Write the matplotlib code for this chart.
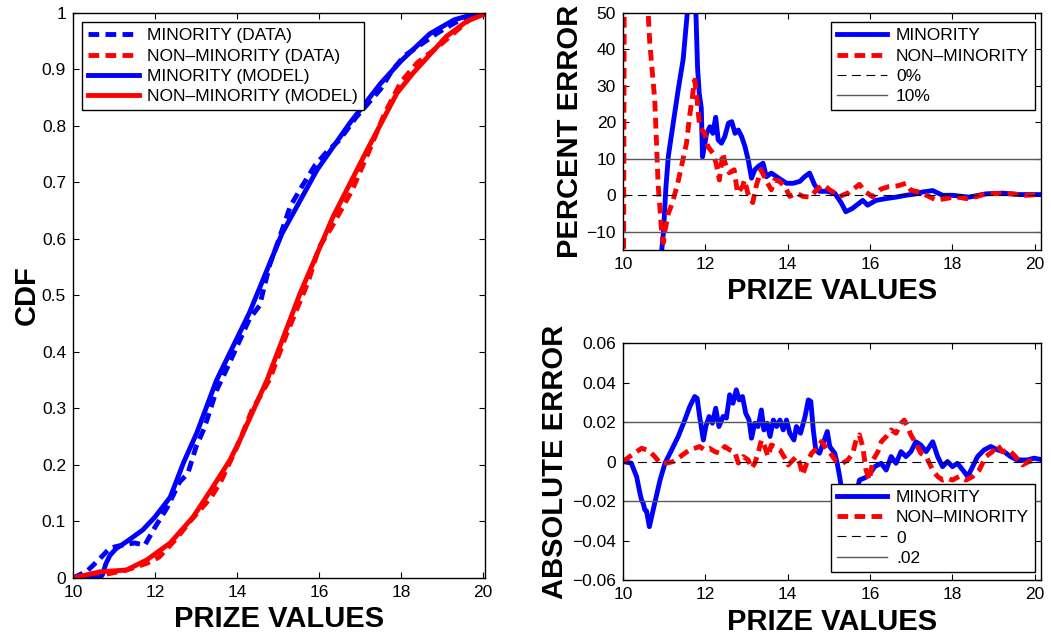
import matplotlib
matplotlib.use("Agg")
import matplotlib.pyplot as plt
from matplotlib.ticker import FuncFormatter

plt.rcParams['font.family'] = ['Liberation Sans', 'DejaVu Sans']

# CDF curves: model (smooth) and data (empirical)
min_model_x = [10.0, 10.65, 10.72, 10.8, 10.9, 11.05, 11.3, 11.7, 12.0, 12.37, 12.7, 13.02, 13.5,
               14.3, 15.1, 15.95, 16.75, 17.5, 18.0, 18.7, 19.3, 19.9, 20.1]
min_model_y = [0.0, 0.0, 0.006, 0.025, 0.040, 0.052, 0.064, 0.085, 0.108, 0.143, 0.205, 0.257,
               0.350, 0.469, 0.610, 0.722, 0.805, 0.875, 0.915, 0.963, 0.988, 1.0, 1.0]

non_model_x = [10.0, 10.66, 11.3, 11.8, 12.37, 12.93, 13.41, 13.83, 14.07, 14.73, 15.54, 16.34,
               17.17, 17.9, 18.3, 19.1, 19.6, 20.1]
non_model_y = [0.0, 0.011, 0.014, 0.032, 0.062, 0.108, 0.161, 0.209, 0.244, 0.350, 0.504, 0.639,
               0.757, 0.858, 0.894, 0.958, 0.985, 1.0]

min_data_x = [10.0, 10.34, 10.64, 10.9, 11.2, 11.5, 11.75, 12.0, 12.3, 12.6, 12.8, 13.0, 13.2,
              13.5, 13.8, 14.0, 14.3, 14.55, 14.8, 15.0, 15.3, 15.6, 15.9, 16.2, 16.5, 16.9,
              17.2, 17.5, 17.8, 18.1, 18.5, 18.9, 19.3, 19.7, 20.1]
min_data_y = [0.0, 0.012, 0.033, 0.053, 0.058, 0.062, 0.058, 0.090, 0.125, 0.170, 0.185, 0.232,
              0.265, 0.332, 0.378, 0.410, 0.458, 0.482, 0.555, 0.595, 0.658, 0.695, 0.730, 0.755,
              0.775, 0.815, 0.840, 0.865, 0.900, 0.925, 0.945, 0.965, 0.982, 0.996, 1.0]

non_data_x = [10.0, 10.45, 10.9, 11.3, 11.8, 12.1, 12.5, 12.9, 13.36, 13.6, 14.0, 14.36, 14.8,
              15.2, 15.74, 16.0, 16.3, 16.8, 17.2, 17.6, 18.0, 18.4, 18.9, 19.3, 19.7, 20.1]
non_data_y = [0.0, 0.002, 0.008, 0.014, 0.026, 0.037, 0.068, 0.104, 0.142, 0.170, 0.232, 0.296,
              0.352, 0.430, 0.525, 0.585, 0.620, 0.685, 0.752, 0.822, 0.878, 0.912, 0.940, 0.965,
              0.990, 1.0]

# percent error of the model
min_pct_x = [10.1, 10.6, 10.85, 10.94, 10.98, 11.04, 11.1, 11.22, 11.34, 11.46, 11.56, 11.64,
             11.72, 11.77, 11.81, 11.85, 11.9, 11.93, 12.03, 12.11, 12.18, 12.25, 12.31, 12.39,
             12.47, 12.56, 12.64, 12.72, 12.8, 12.88, 12.96, 13.04, 13.12, 13.2, 13.28, 13.4,
             13.48, 13.6, 13.73, 13.85, 13.97, 14.13, 14.29, 14.41, 14.53, 14.65, 14.77, 14.94,
             15.14, 15.3, 15.41, 15.57, 15.82, 15.94, 16.14, 16.38, 16.63, 16.87, 17.11, 17.27,
             17.52, 17.76, 18.0, 18.4, 18.81, 19.21, 19.62, 20.1]
min_pct_y = [-100, -100, -40, -15, -10.4, 2, 10.7, 19.9, 29, 37.3, 50, 68,
             62, 50, 35, 28, 24, 10.5, 17, 18.8, 17, 21.4, 15.2, 14.3,
             16.1, 19.8, 20.2, 17, 17.9, 16.1, 13.4, 9.7, 4.7, 7, 7.9, 8.8,
             5.1, 6.1, 5.1, 4.2, 3.3, 3.3, 3.8, 5.1, 6.1, 2.9, 1.1, 1.1,
             0.6, -2.1, -4.5, -3.6, -1.4, -2.7, -1.4, -0.9, -0.5, 0, 0.4, 0.9,
             1.3, 0, 0, -0.5, 0.4, 0.6, 0.2, 0.2]

non_pct_x = [10.0, 10.05, 10.3, 10.55, 10.61, 10.65, 10.77, 10.81, 10.85, 10.94, 10.98, 11.02,
             11.1, 11.2, 11.33, 11.42, 11.54, 11.62, 11.74, 11.8, 11.86, 11.98, 12.06, 12.18,
             12.26, 12.34, 12.42, 12.5, 12.58, 12.7, 12.78, 12.9, 12.95, 13.03, 13.15, 13.23,
             13.35, 13.47, 13.6, 13.68, 13.8, 13.93, 14.05, 14.21, 14.37, 14.55, 14.7, 14.86,
             15.02, 15.09, 15.25, 15.49, 15.74, 15.86, 16.06, 16.26, 16.46, 16.67, 16.87, 16.99,
             17.19, 17.44, 17.6, 17.84, 18.08, 18.33, 18.57, 18.81, 19.13, 19.45, 19.78, 20.1]
non_pct_y = [-80, 150, 200, 80, 50, 41.7, 26.2, 15.2, 3.3, -10.4, -13, -9.6,
             -5, -2, 3.4, 8, 14.2, 22, 31.6, 26, 18.8, 17, 13.4, 11.6,
             8.8, 4.2, 11.6, 8, 6.2, 7, 0.6, 2.4, 4.2, 0.6, -2, 2.4,
             7, 4.2, 1.5, 4.2, 3.8, 2.4, -0.3, 0.6, -0.3, -0.5, 1.5, 2.9,
             1.5, 1, -0.4, 0.8, 3, 1.2, -0.4, 1.7, 2.4, 2.6, 3.3, 1.4,
             0.9, -0.4, -1.3, -0.9, -0.4, -0.9, -0.4, 0.4, 0.5, 0.4, 0, 0.2]

# absolute error of the model
min_abs_x = [10.0, 10.2, 10.33, 10.41, 10.45, 10.49, 10.53, 10.57, 10.64, 10.77, 10.9, 11.02,
             11.18, 11.34, 11.5, 11.62, 11.74, 11.8, 11.86, 11.95, 12.01, 12.09, 12.17, 12.25,
             12.33, 12.43, 12.51, 12.59, 12.67, 12.75, 12.82, 12.9, 12.98, 13.06, 13.12, 13.2,
             13.28, 13.36, 13.42, 13.5, 13.57, 13.65, 13.73, 13.81, 13.89, 13.97, 14.05, 14.15,
             14.21, 14.31, 14.42, 14.5, 14.56, 14.62, 14.68, 14.77, 14.86, 14.96, 15.02, 15.14,
             15.2, 15.26, 15.35, 15.5, 15.65, 15.74, 15.9, 16.0, 16.11, 16.27, 16.39, 16.51,
             16.63, 16.75, 16.87, 16.99, 17.11, 17.23, 17.36, 17.52, 17.64, 17.76, 17.88, 18.0,
             18.12, 18.25, 18.37, 18.49, 18.61, 18.77, 18.93, 19.09, 19.25, 19.41, 19.57, 19.82,
             19.98, 20.1]
min_abs_y = [0.0, -0.0008, -0.0077, -0.016, -0.0195, -0.0212, -0.0245, -0.025, -0.033, -0.021,
             -0.0093, -0.0008, 0.0059, 0.0127, 0.021, 0.0278, 0.0329, 0.032, 0.0228, 0.0109,
             0.0177, 0.0228, 0.0194, 0.027, 0.0177, 0.0228, 0.022, 0.0338, 0.0295, 0.0363,
             0.0312, 0.0329, 0.0244, 0.021, 0.0118, 0.0194, 0.0177, 0.0261, 0.016, 0.0194,
             0.0127, 0.021, 0.0177, 0.021, 0.016, 0.021, 0.0143, 0.0109, 0.0177, 0.0143,
             0.0228, 0.0312, 0.0304, 0.016, 0.0059, 0.0042, 0.0093, 0.0152, 0.0076, 0.0042,
             -0.0008, -0.0076, -0.02, -0.025, -0.018, -0.0094, -0.008, -0.006, -0.0026, -0.0009,
             -0.0043, 0.0025, -0.0009, 0.005, 0.0025, 0.005, 0.01, 0.0084, 0.005, 0.01,
             0.0025, -0.0026, 0.0, -0.0026, -0.0009, -0.0043, -0.0076, -0.0026, 0.0025, 0.0059,
             0.0076, 0.0059, 0.005, 0.0025, 0.0008, 0.0008, 0.0017, 0.0012]

non_abs_x = [10.0, 10.16, 10.33, 10.45, 10.57, 10.69, 10.77, 10.9, 11.06, 11.22, 11.34, 11.5,
             11.62, 11.74, 11.86, 11.98, 12.1, 12.23, 12.35, 12.47, 12.59, 12.71, 12.8, 12.92,
             13.04, 13.12, 13.2, 13.28, 13.36, 13.44, 13.52, 13.6, 13.68, 13.81, 13.93, 14.01,
             14.13, 14.21, 14.29, 14.36, 14.46, 14.58, 14.7, 14.82, 14.94, 15.06, 15.18, 15.33,
             15.46, 15.58, 15.66, 15.74, 15.82, 15.9, 15.98, 16.07, 16.19, 16.27, 16.39, 16.51,
             16.63, 16.75, 16.83, 16.91, 16.99, 17.11, 17.23, 17.36, 17.52, 17.64, 17.76, 17.88,
             18.0, 18.16, 18.33, 18.49, 18.65, 18.81, 18.97, 19.09, 19.21, 19.37, 19.53, 19.7,
             19.86, 20.06]
non_abs_y = [0.0, 0.0025, 0.005, 0.0067, 0.0059, 0.0042, 0.0025, -0.0008, -0.0008, 0.0, 0.0017,
             0.0042, 0.0059, 0.0067, 0.0076, 0.0059, 0.0067, 0.005, 0.0042, 0.0076, 0.0059, 0.005,
             -0.0008, 0.0025, 0.0008, -0.0034, -0.0008, 0.0042, 0.0109, 0.0076, 0.0025, 0.0084,
             0.0076, 0.0059, 0.0017, -0.0017, 0.0008, 0.0025, -0.0008, -0.0068, -0.0008, 0.0042,
             0.0067, 0.0101, 0.0067, 0.0034, 0.0, -0.0009, 0.0008, 0.0042, 0.011, 0.0135, 0.0076,
             -0.0043, -0.0094, 0.0008, 0.005, 0.01, 0.0126, 0.016, 0.0143, 0.0194, 0.021, 0.0177,
             0.0135, 0.0092, 0.0042, 0.0025, -0.0043, -0.0076, -0.0094, -0.0085, -0.0094, -0.0076,
             -0.0094, -0.0076, -0.0043, 0.0025, 0.005, 0.0084, 0.005, 0.0059, 0.0025, -0.0017,
             0.0, 0.0008]

LW = 3.5
DASH = (0, (2.2, 1.3))
REF_DASH = (0, (8, 5))
FS = 12.5
LABEL_FS = 21

fig = plt.figure(figsize=(10.51, 6.35), dpi=100)
ax_cdf = fig.add_axes([0.0695, 0.0898, 0.392, 0.8898])
ax_pct = fig.add_axes([0.5928, 0.6063, 0.3977, 0.3732])
ax_abs = fig.add_axes([0.5928, 0.0866, 0.3977, 0.3732])

legend_kw = dict(fontsize=FS, frameon=True, fancybox=False, edgecolor='black', framealpha=1,
                 handlelength=2.9, labelspacing=0.3, borderpad=0.35, handletextpad=0.5,
                 borderaxespad=0)


def matlab_num(v, pos):
    s = ('%g' % round(v, 6))
    return s.replace('-', '\u2212')


for ax in (ax_cdf, ax_pct, ax_abs):
    ax.tick_params(direction='in', top=True, right=True, length=4, width=0.8,
                   labelsize=FS, pad=5)
    for sp in ax.spines.values():
        sp.set_linewidth(1.0)
    ax.set_xticks([10, 12, 14, 16, 18, 20])
    ax.yaxis.set_major_formatter(FuncFormatter(matlab_num))

# left: CDF
ax_cdf.plot(min_data_x, min_data_y, color='blue', lw=LW, ls=DASH, label='MINORITY (DATA)')
ax_cdf.plot(non_data_x, non_data_y, color='red', lw=LW, ls=DASH, label='NON\u2013MINORITY (DATA)')
ax_cdf.plot(min_model_x, min_model_y, color='blue', lw=LW, label='MINORITY (MODEL)')
ax_cdf.plot(non_model_x, non_model_y, color='red', lw=LW, label='NON\u2013MINORITY (MODEL)')
ax_cdf.set_xlim(10, 20.05)
ax_cdf.set_ylim(0, 1)
ax_cdf.set_yticks([i / 10 for i in range(11)])
ax_cdf.set_xlabel('PRIZE VALUES', fontsize=LABEL_FS, fontweight='bold', labelpad=4)
ax_cdf.set_ylabel('CDF', fontsize=LABEL_FS, fontweight='bold', labelpad=1)
ax_cdf.legend(loc='upper left', bbox_to_anchor=(0.022, 0.984), **legend_kw)

# top right: percent error
ax_pct.plot(min_pct_x, min_pct_y, color='blue', lw=LW, label='MINORITY')
ax_pct.plot(non_pct_x, non_pct_y, color='red', lw=LW, ls=DASH, label='NON\u2013MINORITY')
ax_pct.axhline(0, color='black', lw=0.8, ls=REF_DASH, label='0%')
ax_pct.axhline(10, color='0.35', lw=1.0, label='10%')
ax_pct.axhline(-10, color='0.35', lw=1.0)
ax_pct.set_xlim(10, 20.15)
ax_pct.set_ylim(-15, 50)
ax_pct.set_yticks([-10, 0, 10, 20, 30, 40, 50])
ax_pct.set_xlabel('PRIZE VALUES', fontsize=LABEL_FS, fontweight='bold', labelpad=4)
ax_pct.set_ylabel('PERCENT ERROR', fontsize=LABEL_FS, fontweight='bold', labelpad=2)
ax_pct.legend(loc='upper right', bbox_to_anchor=(0.986, 0.962), **legend_kw)

# bottom right: absolute error
ax_abs.plot(min_abs_x, min_abs_y, color='blue', lw=LW, label='MINORITY')
ax_abs.plot(non_abs_x, non_abs_y, color='red', lw=LW, ls=DASH, label='NON\u2013MINORITY')
ax_abs.axhline(0, color='black', lw=0.8, ls=REF_DASH, label='0')
ax_abs.axhline(0.02, color='0.35', lw=1.0, label='.02')
ax_abs.axhline(-0.02, color='0.35', lw=1.0)
ax_abs.set_xlim(10, 20.15)
ax_abs.set_ylim(-0.06, 0.06)
ax_abs.set_yticks([-0.06, -0.04, -0.02, 0, 0.02, 0.04, 0.06])
ax_abs.set_xlabel('PRIZE VALUES', fontsize=LABEL_FS, fontweight='bold', labelpad=4)
ax_abs.set_ylabel('ABSOLUTE ERROR', fontsize=LABEL_FS, fontweight='bold', labelpad=2)
ax_abs.legend(loc='lower right', bbox_to_anchor=(0.986, 0.034), **legend_kw)

fig.savefig('out.png', dpi=100)
